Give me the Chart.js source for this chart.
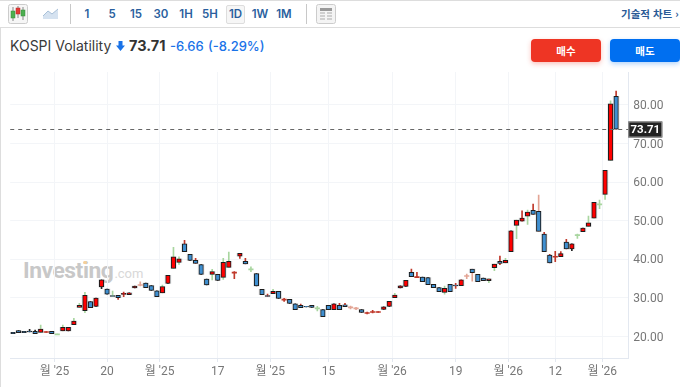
<!DOCTYPE html><html lang="ko">
<head>
    <meta charset="UTF-8">
    <title>KOSPI Volatility</title>
    <script src="https://cdn.jsdelivr.net/npm/chart.js"></script>
    <style>
        * { margin: 0; padding: 0; box-sizing: border-box; }
        html, body { width: 680px; height: 387px; overflow: hidden; background: #fff; }
        body { position: relative; font-family: Inter, "Noto Sans CJK KR", sans-serif; color: #333; }
        .abs { position: absolute; white-space: nowrap; }
        #edge { left: 0; top: 0; width: 680px; height: 28px; border-top: 1px solid #ddd; border-bottom: 1px solid #ddd; }
        #left-edge { left: 0; top: 28px; width: 1px; height: 359px; background: #ddd; }
        .iv { top: 5px; width: 24px; height: 18px; line-height: 18px; text-align: center; font-size: 11.5px; font-weight: 600; color: #2a5f9e; }
        #d1 { background: #f6f6f6; border: 1px solid #ddd; border-radius: 2px; line-height: 16px; width: 19px; height: 19px; }
        .sep { top: 4px; width: 1px; height: 20px; background: #c8c8c8; }
        #tech { left: 621px; top: 6px; font: 600 10.5px "Noto Sans CJK KR", sans-serif; color: #2a5a96; }
        #title { left: 10px; top: 37px; font-size: 14px; line-height: 18px; color: #3a3a3a; }
        #price { left: 129px; top: 37px; font-size: 14.5px; line-height: 18px; font-weight: 700; color: #333; }
        #chg { left: 170px; top: 37px; font-size: 13px; line-height: 18px; font-weight: 500; color: #1a73e8; }
        #pct { left: 208px; top: 37px; font-size: 13px; line-height: 18px; font-weight: 500; color: #1a73e8; }
        .btn { top: 39px; width: 70px; height: 23px; border-radius: 4px; text-align: center; line-height: 23px; color: #fff; font: 700 10.5px/23px "Noto Sans CJK KR", sans-serif; }
        #buy { left: 531px; background: #ee3524; box-shadow: 0 2px 5px rgba(238, 53, 36, 0.3); }
        #sell { left: 610px; background: #006ff0; box-shadow: 0 2px 5px rgba(0, 111, 240, 0.3); }
        #wm { left: 23px; top: 257px; font: 700 22.8px Roboto, sans-serif; letter-spacing: -0.45px; color: #c8c8c8; }
        #wm span { font-weight: 400; font-size: 13px; letter-spacing: 0; margin-left: 1px; color: #d8d8d8; }
        #wm-dot { left: 83px; top: 261px; width: 4px; height: 3px; border-radius: 2px; background: #f4cf9a; }
        canvas { position: absolute; left: 0; top: 70px; }
    </style>
</head>
<body>
    <div class="abs" id="edge"></div>
    <div class="abs" id="left-edge"></div>

    <svg class="abs" style="left:8px;top:4px" width="21" height="20">
        <rect x="0.5" y="0.5" width="19" height="19" rx="2" fill="#f6f6f6" stroke="#ccc"/>
        <path d="M5 3v14M10 2v12M15 3v13" stroke="#888"/>
        <rect x="3" y="7" width="4" height="7" fill="#4caf50" stroke="#3a8a3a" stroke-width="0.5"/>
        <rect x="8" y="4" width="4" height="6" fill="#e53935" stroke="#b02a2a" stroke-width="0.5"/>
        <rect x="13" y="6" width="4" height="6" fill="#4caf50" stroke="#3a8a3a" stroke-width="0.5"/>
    </svg>
    <svg class="abs" style="left:43px;top:8px" width="16" height="11">
        <path d="M0 8L5 3L9 6L15 1V11H0Z" fill="#d5e2f0"/>
        <path d="M0 8L5 3L9 6L15 1" fill="none" stroke="#a8c0d8"/>
    </svg>
    <div class="abs sep" style="left:70px"></div>
    <div class="abs iv" style="left:75px">1</div>
    <div class="abs iv" style="left:100px">5</div>
    <div class="abs iv" style="left:124px">15</div>
    <div class="abs iv" style="left:149px">30</div>
    <div class="abs iv" style="left:174px">1H</div>
    <div class="abs iv" style="left:198px">5H</div>
    <div class="abs iv" id="d1" style="left:226px">1D</div>
    <div class="abs iv" style="left:248px">1W</div>
    <div class="abs iv" style="left:272px">1M</div>
    <div class="abs sep" style="left:306px"></div>
    <svg class="abs" style="left:316px;top:4px" width="20" height="20">
        <rect x="0.5" y="0.5" width="19" height="19" rx="2" fill="#f4f4f4" stroke="#ccc"/>
        <rect x="4" y="4" width="12" height="3" fill="#999"/>
        <path d="M4 9h5M4 12h5M4 15h5M11 9h5M11 12h5M11 15h5" stroke="#aaa"/>
    </svg>
    <div class="abs" id="tech">기술적 차트 ›</div>

    <div class="abs" id="title">KOSPI Volatility</div>
    <svg class="abs" style="left:116px;top:41px" width="9" height="10">
        <path d="M2.5 0H6.5V4.5H9L4.5 10L0 4.5H2.5Z" fill="#1a73e8"/>
    </svg>
    <div class="abs" id="price">73.71</div>
    <div class="abs" id="chg">-6.66</div>
    <div class="abs" id="pct">(-8.29%)</div>
    <div class="abs btn" id="buy">매수</div>
    <div class="abs btn" id="sell">매도</div>

    <div class="abs" id="wm">Investing<span>.com</span></div>
    <div class="abs" id="wm-dot"></div>

    <canvas id="chart" width="680" height="317"></canvas>

<script>
    const opens = [21.08,21.51,21.34,21.42,21.34,21.08,21.16,21.34,20.56,21.42,
        21.42,23.06,27.55,26.69,29.02,27.81,32.82,32.30,30.58,30.66,
        30.92,30.84,32.56,33.34,33.86,33.17,31.87,31.27,33.77,37.66,
        39.21,44.05,41.29,39.73,38.61,34.90,36.10,36.10,35.33,37.92,
        36.54,40.85,39.47,37.40,36.28,32.22,30.58,31.10,31.70,29.54,
        29.63,28.50,28.07,27.81,28.07,27.30,26.95,28.07,26.95,28.07,
        28.24,27.55,27.30,26.95,26.09,26.35,26.35,27.03,27.81,30.06,
        32.56,33.00,36.62,35.41,35.41,35.24,33.51,32.65,31.44,33.51,
        33.34,33.16,35.67,37.48,36.10,35.15,34.46,37.83,39.47,39.04,
        41.98,48.80,49.92,51.21,52.68,52.42,46.55,41.11,40.68,40.68,
        44.48,42.67,46.29,47.16,48.54,50.70,54.24,56.83,65.64,82.22];
    const closes = [20.73,20.99,20.99,21.16,20.73,21.94,21.16,20.73,20.56,22.37,
        22.37,24.01,28.07,30.66,27.47,29.97,34.72,31.00,30.40,30.06,
        31.18,31.35,33.08,33.34,32.65,31.96,30.32,32.91,35.85,40.68,
        40.16,41.98,39.73,38.95,36.10,33.34,36.80,34.55,39.21,39.47,
        36.54,41.54,38.78,37.40,33.08,30.84,30.40,31.70,29.89,29.54,
        28.59,26.95,27.47,27.64,27.55,27.30,25.14,26.95,28.50,26.95,
        27.73,27.55,27.30,26.26,26.09,26.35,26.35,27.72,29.10,30.75,
        33.16,34.55,35.50,35.41,34.20,33.42,32.65,31.61,32.47,31.61,
        33.08,34.72,35.67,36.53,34.20,34.46,34.98,38.78,38.95,39.73,
        47.41,50.18,50.70,52.25,51.65,47.24,41.98,39.04,40.68,41.46,
        42.67,44.05,46.29,48.11,49.49,54.76,54.24,63.05,80.32,73.71];
    const highs = [21.08,21.51,21.34,21.85,21.68,22.98,21.25,21.34,20.65,22.98,
        22.40,24.70,28.59,31.44,29.02,29.97,34.72,32.30,31.79,30.66,
        31.53,31.35,33.08,34.20,33.86,33.17,31.87,33.34,35.85,43.10,
        40.68,44.91,41.29,40.25,38.61,34.90,37.40,36.10,40.25,41.89,
        36.85,41.54,40.25,38.09,36.28,32.22,31.00,32.22,31.70,29.89,
        29.63,28.50,28.42,27.81,28.07,27.81,26.95,28.07,28.50,28.59,
        28.59,27.90,27.55,26.95,26.35,26.78,26.45,27.72,29.10,31.18,
        33.16,34.55,37.48,36.62,35.41,35.24,33.51,32.65,33.08,33.51,
        33.77,34.72,36.19,37.48,36.10,35.15,34.98,38.78,40.85,40.25,
        47.41,50.18,52.60,52.77,54.32,56.66,46.98,41.28,42.06,41.98,
        45.17,44.05,46.55,48.11,51.21,54.76,55.36,63.05,81.10,83.60];
    const lows = [20.73,20.99,20.99,21.16,20.73,21.08,21.05,20.73,20.46,21.42,
        21.42,23.06,27.55,26.17,27.47,27.81,32.39,31.00,30.40,29.63,
        30.32,30.84,32.56,33.08,32.65,31.96,30.32,31.27,33.77,37.66,
        38.70,41.98,39.73,38.95,36.10,33.34,34.64,34.55,34.81,37.92,
        34.98,40.25,38.78,36.80,33.08,30.84,30.40,31.10,29.89,29.11,
        28.59,26.95,27.47,27.64,27.55,26.60,25.14,26.95,26.95,26.95,
        27.73,27.12,26.95,26.26,25.83,26.09,26.25,27.03,27.81,30.06,
        32.56,33.00,35.50,35.24,34.20,33.42,32.65,31.61,31.00,31.61,
        32.47,33.16,34.98,34.37,34.20,34.46,33.94,37.05,38.60,39.04,
        41.98,45.34,49.92,49.06,51.65,47.24,41.98,39.04,39.38,40.68,
        42.67,42.23,45.43,47.16,48.54,50.70,53.11,55.53,65.64,73.71];
    // wick tint per candle: k dark, r red, p pink, g light green
    const wickTints = ['k','k','k','k','k','g','r','k','g','g',
        'k','g','g','g','k','k','k','k','g','r',
        'r','k','k','p','k','k','k','g','k','g',
        'g','r','k','r','k','k','g','k','g','g',
        'r','r','r','g','k','k','r','g','k','r',
        'k','k','r','k','k','g','k','k','k','r',
        'r','p','p','k','r','r','r','k','k','g',
        'k','k','r','r','k','k','k','k','g','k',
        'r','r','p','p','k','k','g','g','r','g',
        'k','g','r','g','r','p','r','r','r','r',
        'r','k','g','k','g','g','g','g','g','r'];
    const xTickAt = [7.5, 17, 26.5, 37, 46.5, 57, 68.5, 80, 89.5, 98, 106.5];
    const xTickLabels = ["월 '25", '20', "월 '25", '17', "월 '25", '15', "월 '26", '19', "월 '26", '12', "월 '26"];
    const yTicks = [20, 30, 40, 50, 60, 70, 80];
    const lastPrice = 73.71;

    const tintColors = { k: '#222', r: '#c0392b', p: '#e3a595', g: '#a9d6a0' };
    const UP = '#ff0000';
    const DOWN = '#3f8fd0';
    const isDoji = i => opens[i] === closes[i];

    const bodies = opens.map((o, i) => ({
        x: i,
        y: isDoji(i) ? [o - 0.13, o + 0.13] : [o, closes[i]]
    }));
    const wicks = opens.map((o, i) => ({ x: i, y: [lows[i], highs[i]] }));

    // dashed last price line and the dark tag on the axis
    const lastPriceTag = {
        id: 'lastPriceTag',
        afterDraw(chart) {
            const c = chart.ctx, area = chart.chartArea;
            const y = Math.round(chart.scales.y.getPixelForValue(lastPrice)) + 0.5;
            c.save();
            c.strokeStyle = '#666';
            c.setLineDash([4, 4]);
            c.beginPath();
            c.moveTo(area.left, y);
            c.lineTo(area.right, y);
            c.stroke();
            c.setLineDash([]);
            c.fillStyle = '#222';
            c.strokeStyle = '#999';
            c.fillRect(area.right, y - 8, 34, 16);
            c.strokeRect(area.right + 0.5, y - 7.5, 33, 15);
            c.fillStyle = '#fff';
            c.font = 'bold 11.5px Roboto, sans-serif';
            c.textAlign = 'center';
            c.textBaseline = 'middle';
            c.fillText(lastPrice.toFixed(2), area.right + 17, y + 0.5);
            c.restore();
        }
    };

    const noEdgePadding = s => {
        s.paddingLeft = s.paddingRight = s.paddingTop = s.paddingBottom = 0;
    };

    new Chart(document.getElementById('chart'), {
        type: 'bar',
        data: {
            datasets: [
                {
                    data: bodies,
                    order: 1,
                    grouped: false,
                    barThickness: 4.5,
                    borderWidth: ctx => isDoji(ctx.dataIndex) ? 0 : 1,
                    borderColor: '#1c1c1c',
                    borderSkipped: false,
                    backgroundColor: ctx => {
                        const i = ctx.dataIndex;
                        if (isDoji(i)) return tintColors[wickTints[i]];
                        return closes[i] >= opens[i] ? UP : DOWN;
                    }
                },
                {
                    data: wicks,
                    order: 2,
                    grouped: false,
                    barThickness: 1,
                    borderWidth: 0,
                    backgroundColor: ctx => tintColors[wickTints[ctx.dataIndex]]
                },
                {
                    // soft grey edge the source shows round the bodies
                    data: bodies,
                    order: 3,
                    grouped: false,
                    barThickness: 6,
                    borderWidth: 0,
                    backgroundColor: ctx => isDoji(ctx.dataIndex) ? 'transparent' : 'rgba(120, 130, 140, 0.2)'
                }
            ]
        },
        options: {
            responsive: false,
            animation: false,
            layout: { padding: { top: 2, left: 10.23 } },
            plugins: { legend: { display: false }, tooltip: { enabled: false } },
            scales: {
                x: {
                    type: 'linear',
                    offset: false,
                    min: -0.5,
                    max: 111.2,
                    afterBuildTicks: s => { s.ticks = xTickAt.map(v => ({ value: v })); },
                    afterFit: s => { s.height = 29; noEdgePadding(s); },
                    grid: { offset: false, color: '#f3f5f8', tickLength: 4, tickColor: '#e3e8f0' },
                    border: { color: '#e3e8f0' },
                    ticks: {
                        autoSkip: false,
                        maxRotation: 0,
                        padding: 3,
                        color: '#777',
                        font: { family: 'Roboto, "Noto Sans CJK KR", sans-serif', size: 12 },
                        callback: v => xTickLabels[xTickAt.indexOf(v)]
                    }
                },
                y: {
                    position: 'right',
                    min: 14.43,
                    max: 88.55,
                    afterBuildTicks: s => { s.ticks = yTicks.map(v => ({ value: v })); },
                    afterFit: s => { s.width = 51.7; noEdgePadding(s); },
                    grid: { color: '#f3f5f8', drawTicks: false },
                    border: { color: '#e3e8f0' },
                    ticks: {
                        padding: 5,
                        labelOffset: 1,
                        color: '#777',
                        font: { family: 'Roboto, sans-serif', size: 12 },
                        callback: v => v.toFixed(2)
                    }
                }
            }
        },
        plugins: [lastPriceTag]
    });
</script>
</body>
</html>
